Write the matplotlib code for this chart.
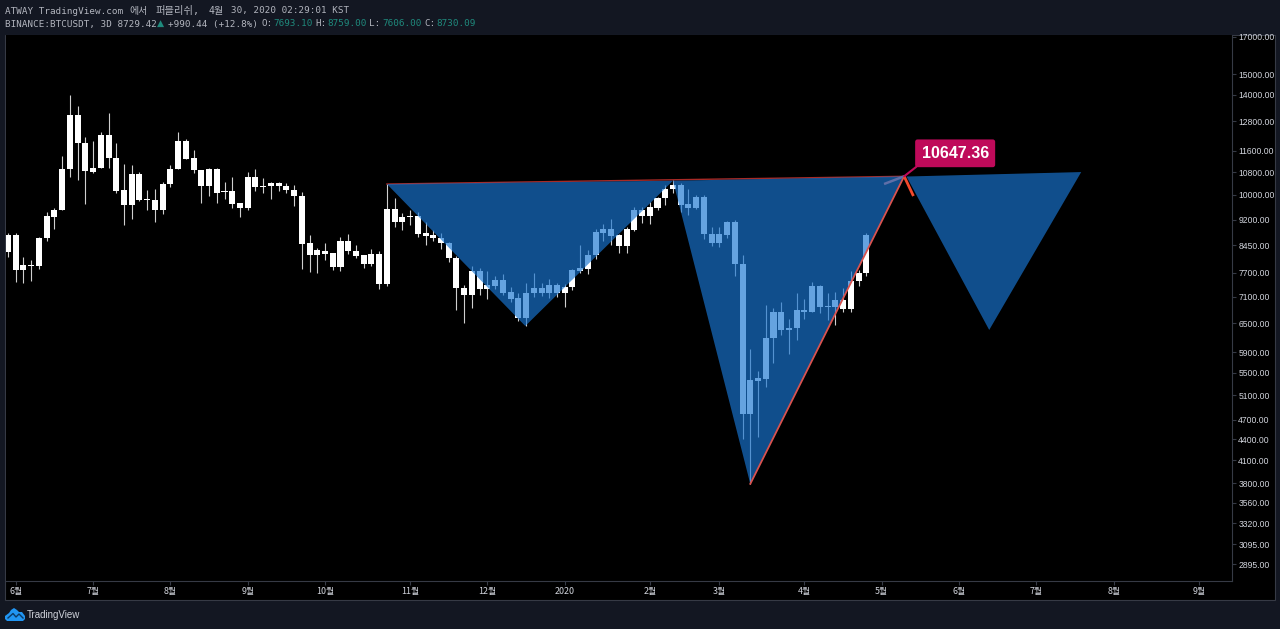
import matplotlib
matplotlib.use('Agg')
import matplotlib.pyplot as plt
from matplotlib.patches import Rectangle, Polygon

# 3D candles, BINANCE:BTCUSDT, prices
body_top = [8745,8745,7895,7905,8660,9320,9510,10915,13095,13095,11910,10960,12230,12230,11340,10170,10735,10735,9860,9835,
            10385,10930,11975,11975,11310,10890,10915,10920,10125,10135,9725,10620,10620,10305,10410,10410,10305,10160,9965,8500,
            8305,8295,8220,8560,8560,8295,8165,8200,8200,9540,9540,9300,9320,9320,8790,8745,8660,8510,8100,7315,
            7750,7750,7390,7515,7515,7230,7070,7205,7315,7315,7390,7390,7350,7775,7815,8175,8830,8920,8930,8745,
            8910,9510,9520,9615,9915,10220,10340,10340,9700,9935,9935,8780,8775,9140,9140,7930,5372,5402,6185,6750,
            6750,6390,6800,6800,7365,7365,6890,7030,7030,7490,7690,8745]
body_bot = [8270,7775,7775,7885,7885,8650,9300,9510,10900,11900,10830,10815,10960,11325,10145,9670,9670,9835,9835,9510,
            9510,10375,10920,11295,10880,10315,10315,10075,10090,9710,9575,9575,10285,10285,10305,10305,10160,9965,8490,8175,
            8175,8210,7855,7855,8285,8145,7940,7940,7415,7415,9140,9140,9280,8765,8725,8650,8500,8095,7310,7150,
            7150,7295,7295,7365,7205,7055,6615,6615,7190,7190,7190,7190,7190,7350,7750,7800,8165,8800,8725,8430,
            8430,8890,9320,9320,9585,9890,10200,9670,9585,9575,8780,8515,8515,8745,7925,4795,4795,5360,5390,6185,
            6355,6355,6390,6755,6755,6870,6860,6860,6820,6820,7480,7685]
high = [8800,8790,8110,8040,8680,9445,9585,11400,13970,13470,12165,12000,12340,13170,11900,11100,11075,10810,10170,10200,
        10450,11060,12340,12060,11620,10890,10935,10935,10430,10630,9725,10790,10915,10590,10450,10430,10400,10330,10090,8745,
        8365,8500,8240,8680,8780,8455,8175,8345,8295,10375,9915,9425,9510,9455,9140,8890,8790,8550,8145,7390,
        7865,7815,7750,7620,7670,7335,7190,7450,7705,7450,7540,7430,7415,7800,8455,8315,8910,9070,9215,8775,
        8970,9595,9595,9755,9945,10340,10520,10400,10220,10000,10000,8990,8990,9170,9195,8175,5960,5535,6910,6845,
        6970,6590,7205,7055,7465,7390,7190,7215,7310,7750,7775,8790]
low = [8110,7475,7430,7495,7790,8570,8930,9510,10640,10520,9700,10780,10945,10960,10075,9040,9235,9810,9510,9140,
       9380,10285,10920,11275,10780,9725,9975,9745,9870,9585,9300,9510,10135,10055,9870,10135,10055,9640,7790,7730,
       7705,8050,7775,7755,8200,8100,7815,7865,7295,7365,8990,8890,9040,8695,8455,8570,8345,7995,6795,6495,
       6845,7135,7055,7295,7135,6990,6555,6440,7110,7125,7080,7110,6870,7270,7690,7660,8060,8570,8455,8240,
       8240,8870,9110,9070,9510,9670,10055,9440,9350,9540,8630,8435,8400,8650,7625,4400,3790,4441,5251,5690,
       6250,5860,6145,6590,6745,6735,6570,6460,6745,6755,7375,7610]

price_ticks = [17000,15000,14000,12800,11600,10800,10000,9200,8450,7700,7100,6500,5900,5500,5100,4700,4400,4100,3800,3560,3320,3095,2895]
month_pos = [1,11,21,31,41,52,62,72,83,92,103,113,123,133,143,154]
month_labels = ['6월','7월','8월','9월','10월','11월','12월','2020','2월','3월','4월','5월','6월','7월','8월','9월']

# the three triangles drawn on the chart (bar index, price)
tri_x = [[49,66.9,86],[86,96,115.9],[116.2,126.9,138.8]]
tri_y = [[10375,6440,10490],[10490,3790,10647],[10640,6355,10800]]
target_x = 115.9
target_price = 10647.36

BG = '#131722'
GRID = '#363a45'
TXT = '#b2b5be'
TEAL = '#1f8a7d'
W, H = 1280, 629

def fx(x):
    return x / W
def fy(y):
    return 1 - y / H

fig = plt.figure(figsize=(12.8, 6.29), dpi=100, facecolor=BG)
fig.add_artist(Rectangle((fx(5), fy(600)), 1270 / W, 565 / H, transform=fig.transFigure,
                         facecolor='black', edgecolor=GRID, lw=0.8, zorder=-1))

ax = fig.add_axes([fx(6), fy(581), 1226 / W, 546 / H], facecolor='black')
ax.set_yscale('log')
ax.set_xlim(-0.26, 158.3)
ax.set_ylim(2735, 17114)

xs = list(range(len(high)))
heights = [t - b for t, b in zip(body_top, body_bot)]
ax.vlines(xs, low, high, color='#cfcfcf', lw=0.8, zorder=2)
ax.bar(xs, heights, bottom=body_bot, width=0.78, color='white', linewidth=0, zorder=3)

# top trend line goes under the fill
ax.plot([tri_x[0][0], target_x], [tri_y[0][0], target_price], color='#a82a26', lw=1.0, zorder=4)
for px, py in zip(tri_x, tri_y):
    ax.fill(px, py, color='#1976d2', alpha=0.67, linewidth=0, zorder=5)

ax.plot([tri_x[1][1], target_x], [tri_y[1][1], target_price], color='#d9534f', lw=1.3, zorder=6)
ax.plot([113.3, target_x], [10375, target_price], color='#5f6fa8', lw=1.8, zorder=6, solid_capstyle='butt')
ax.plot([target_x, 117.1], [target_price, 9965], color='#f4492c', lw=2.0, zorder=6, solid_capstyle='butt')

ax.annotate('%.2f' % target_price, xy=(target_x, target_price), xytext=(51, 23), textcoords='offset pixels',
            ha='center', va='center', color='white', fontsize=11.5, fontweight='bold', family='Liberation Sans', zorder=8,
            bbox=dict(boxstyle='round,pad=0.4,rounding_size=0.15', fc='#bf0a5a', ec='none'),
            arrowprops=dict(arrowstyle='-', color='#bf0a5a', lw=1.5, shrinkA=0, shrinkB=0, relpos=(0.05, 0.05)))

for s in ['top', 'left']:
    ax.spines[s].set_visible(False)
for s in ['right', 'bottom']:
    ax.spines[s].set_color(GRID)
    ax.spines[s].set_linewidth(0.8)

ax.yaxis.tick_right()
ax.set_yticks(price_ticks)
ax.set_yticklabels(['%.2f' % p for p in price_ticks], family='Liberation Sans', fontsize=6.2, color='#d1d4dc')
ax.minorticks_off()
ax.tick_params(axis='y', length=3, width=0.8, color=GRID, pad=1.5)
ax.set_xticks(month_pos)
ax.set_xticklabels(month_labels, family=['Noto Sans CJK KR', 'DejaVu Sans'], fontsize=6.4, color='#d1d4dc', fontweight='medium')
ax.tick_params(axis='x', length=3, width=0.8, color=GRID, pad=1.5)

# header, korean glyphs are wider in the original so the pieces are placed one by one
mono = ['DejaVu Sans Mono', 'Noto Sans CJK KR']
for x, s, size in [(5, 'ATWAY TradingView.com', 6.7), (129, '에서', 7.2), (156, '퍼블리쉬,', 7.4), (209, '4월', 7.2), (231, '30, 2020 02:29:01 KST', 6.7)]:
    fig.text(fx(x), fy(11), s, family=mono, fontsize=size, color=TXT, va='center')
fig.text(fx(5), fy(24), 'BINANCE:BTCUSDT, 3D 8729.42', family=mono, fontsize=6.7, color=TXT, va='center')
fig.text(fx(157), fy(23), '▲', family='DejaVu Sans', fontsize=6.7, color=TEAL, va='center')
fig.text(fx(168), fy(24), '+990.44 (+12.8%)', family=mono, fontsize=6.7, color=TXT, va='center')
for lx, vx, lab, val in [(262, 273, 'O:', '7693.10'), (315, 327, 'H:', '8759.00'), (369, 382, 'L:', '7606.00'), (424, 436, 'C:', '8730.09')]:
    fig.text(fx(lx), fy(24), lab, family=mono, fontsize=6.7, color=TXT, va='center')
    fig.text(fx(vx), fy(24), val, family=mono, fontsize=6.7, color=TEAL, va='center')

# logo bottom left
blue = '#2196f3'
cloud = [(5, 619), (5, 616), (9, 613), (11, 610), (14, 608), (17, 610), (19, 612), (22, 612), (25, 616), (25, 619), (23, 621), (7, 621)]
fig.add_artist(Polygon([(fx(x), fy(y)) for x, y in cloud], closed=True, transform=fig.transFigure, facecolor=blue, edgecolor='none'))
fig.add_artist(plt.Line2D([fx(8), fx(13), fx(16), fx(19), fx(23)], [fy(618), fy(613.5), fy(617), fy(614), fy(618)],
                          transform=fig.transFigure, color='#0b3a66', lw=1.0))
fig.text(fx(27), fy(614.5), 'TradingView', family='Liberation Sans', fontsize=7.0, color='#d1d4dc', va='center')

fig.savefig('out.png', dpi=100, facecolor=BG)
